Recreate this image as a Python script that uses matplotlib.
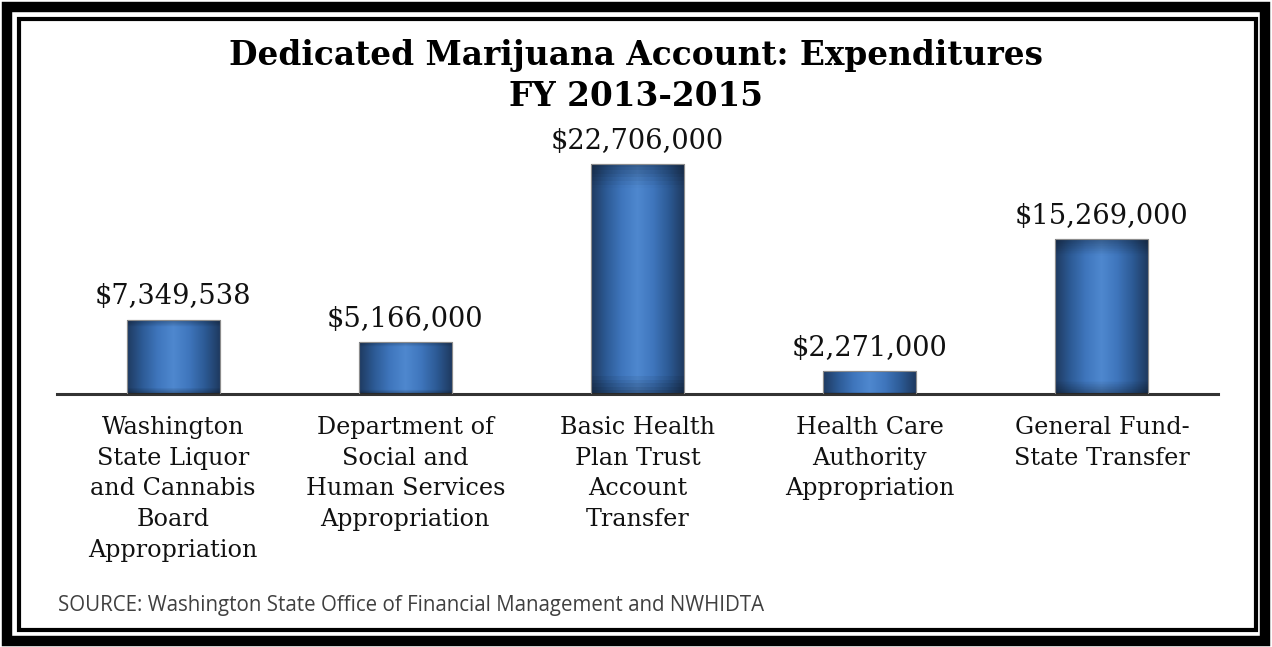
import numpy as np
import matplotlib
matplotlib.use("Agg")
import matplotlib.pyplot as plt
from matplotlib.patches import Rectangle
from matplotlib.colors import LinearSegmentedColormap

categories = [
    "Washington\nState Liquor\nand Cannabis\nBoard\nAppropriation",
    "Department of\nSocial and\nHuman Services\nAppropriation",
    "Basic Health\nPlan Trust\nAccount\nTransfer",
    "Health Care\nAuthority\nAppropriation",
    "General Fund-\nState Transfer",
]
values = [7349538, 5166000, 22706000, 2271000, 15269000]

W, H = 1272, 647
fig = plt.figure(figsize=(W / 100, H / 100), dpi=100)
fig.patch.set_facecolor("white")

# double frame
def px_rect(x0, y0, x1, y1, **kw):
    fig.patches.append(Rectangle((x0 / W, 1 - y1 / H), (x1 - x0) / W, (y1 - y0) / H,
                                 transform=fig.transFigure, fill=False, **kw))

px_rect(7, 7, 1265, 641, lw=7.5, edgecolor="black")
px_rect(19, 19, 1256, 630, lw=3.0, edgecolor="black")

# axes placed so bars line up with the reference
ax_l, ax_r = 57, 1218
ax_b = 394
ymax = 27_000_000
ppm = 230 / 22.706  # pixels per million
ax_t = ax_b - ymax / 1e6 * ppm
ax = fig.add_axes([ax_l / W, 1 - ax_b / H, (ax_r - ax_l) / W, (ax_b - ax_t) / H])
ax.set_xlim(-0.5, 4.5)
ax.set_ylim(0, ymax)
ax.set_facecolor("none")
for s in ["top", "right", "left"]:
    ax.spines[s].set_visible(False)
ax.spines["bottom"].set_linewidth(2.2)
ax.spines["bottom"].set_color("#333333")
ax.set_yticks([])
ax.set_xticks([])

x = np.arange(len(values))
bars = ax.bar(x, values, width=0.4, color="#3a6eb5", edgecolor="#8a8a8a", linewidth=0.8, zorder=2)

# cylinder-like shading
cmap = LinearSegmentedColormap.from_list(
    "cyl", ["#1e3a60", "#2d5b96", "#3f76bd", "#4f88cf", "#3f76bd", "#2d5b96", "#1e3a60"])
grad = np.linspace(0, 1, 256).reshape(1, -1)
for b in bars:
    x0, w, h = b.get_x(), b.get_width(), b.get_height()
    im = ax.imshow(grad, cmap=cmap, extent=[x0, x0 + w, 0, h], aspect="auto", zorder=2.5)
    im.set_clip_path(b)
    vgrad = np.linspace(0, 1, 64).reshape(-1, 1)
    shade = np.zeros((64, 1, 4))
    shade[..., 3] = 0.3 * (np.clip(1 - vgrad / 0.1, 0, 1) + np.clip((vgrad - 0.92) / 0.08, 0, 1))
    im2 = ax.imshow(shade, extent=[x0, x0 + w, 0, h], aspect="auto", zorder=2.6)
    im2.set_clip_path(b)
    ax.add_patch(Rectangle((x0, 0), w, h, fill=False, edgecolor="#8c8c8c", lw=0.8, zorder=3))

serif = "DejaVu Serif"
for xi, v in zip(x, values):
    ax.text(xi, v + 0.9e6, f"${v:,}", ha="center", va="bottom", family=serif,
            fontsize=19.6, color="#111111")

for xi, c in zip(x, categories):
    ax.text(xi, -2.2e6, c, ha="center", va="top", family=serif, fontsize=17.2,
            linespacing=1.42, color="#111111")

fig.text(636 / W, 1 - 76 / H, "Dedicated Marijuana Account: Expenditures\nFY 2013-2015",
         ha="center", va="center", family=serif, fontweight="bold", fontsize=23.6,
         linespacing=1.28, color="black")

fig.text(58 / W, 1 - 605 / H,
         "SOURCE: Washington State Office of Financial Management and NWHIDTA",
         ha="left", va="center", family="Open Sans", fontsize=14.8, color="#404040")

fig.savefig("out.png", dpi=100)
